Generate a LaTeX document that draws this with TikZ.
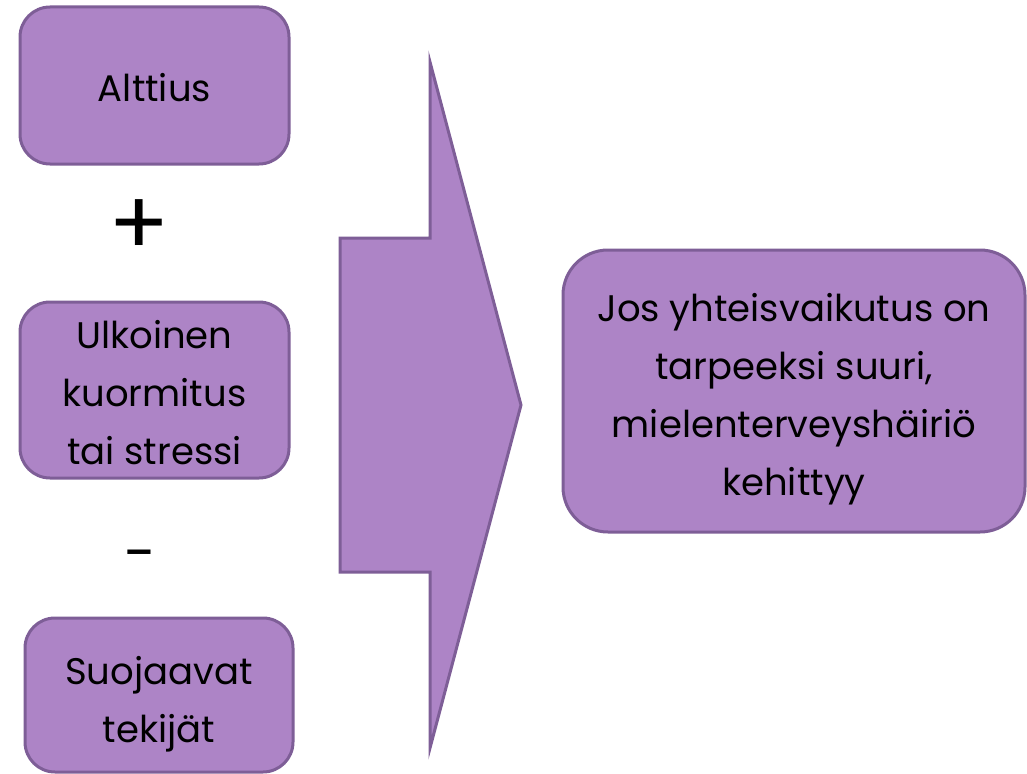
\documentclass[tikz,border=0pt]{standalone}
\usepackage{fontspec}
\setmainfont{Poppins}
\usetikzlibrary{positioning}
\definecolor{lavfill}{HTML}{AD84C6}
\definecolor{lavline}{HTML}{7E5E97}
\tikzset{
  factor/.style={draw=lavline, fill=lavfill, line width=3pt, rounded corners=30pt, inner sep=0pt},
  factortext/.style={align=center, inner sep=0pt, font=\fontsize{37}{58}\selectfont},
  sign/.style={inner sep=0pt, font=\fontsize{90}{90}\selectfont}
}

\begin{document}
\begin{tikzpicture}[x=1pt,y=-1pt]
    \useasboundingbox (0,0) rectangle (1027,773);

    %left column: the factors
    \node[factor, minimum width=269pt, minimum height=157pt] (alttius) at (154.5,85.5) {};
    \node[factortext] (alttius-t) at ([yshift=-2pt]alttius.center) {Alttius};
    \node[sign] (plus) at (139.5,227.5) {+};
    \node[factor, minimum width=269pt, minimum height=176pt] (kuormitus) at (154.5,390) {};
    \node[factortext] (kuormitus-t) at ([yshift=-3pt]kuormitus.center) {Ulkoinen\\kuormitus\\tai stressi};
    \node[sign, font=\fontsize{58}{58}\selectfont] (minus) at (140,562) {-};
    \node[factor, minimum width=268pt, minimum height=154pt] (suoja) at (159,695) {};
    \node[factortext] (suoja-t) at ([yshift=-9pt]suoja.center) {Suojaavat\\tekijät};

    %big arrow
    \draw[draw=lavline, fill=lavfill, line width=3pt]
        (340,238) -- (430,238) -- (430,62) -- (521,405) -- (430,748) -- (430,572) -- (340,572) -- cycle;

    %result
    \node[factor, rounded corners=45pt, minimum width=462pt, minimum height=282pt] (tulos) at (794,391) {};
    \node[factortext] (tulos-t) at ([yshift=-8pt]tulos.center)
        {Jos yhteisvaikutus on\\tarpeeksi suuri,\\mielenterveyshäiriö\\kehittyy};
\end{tikzpicture}
\end{document}
